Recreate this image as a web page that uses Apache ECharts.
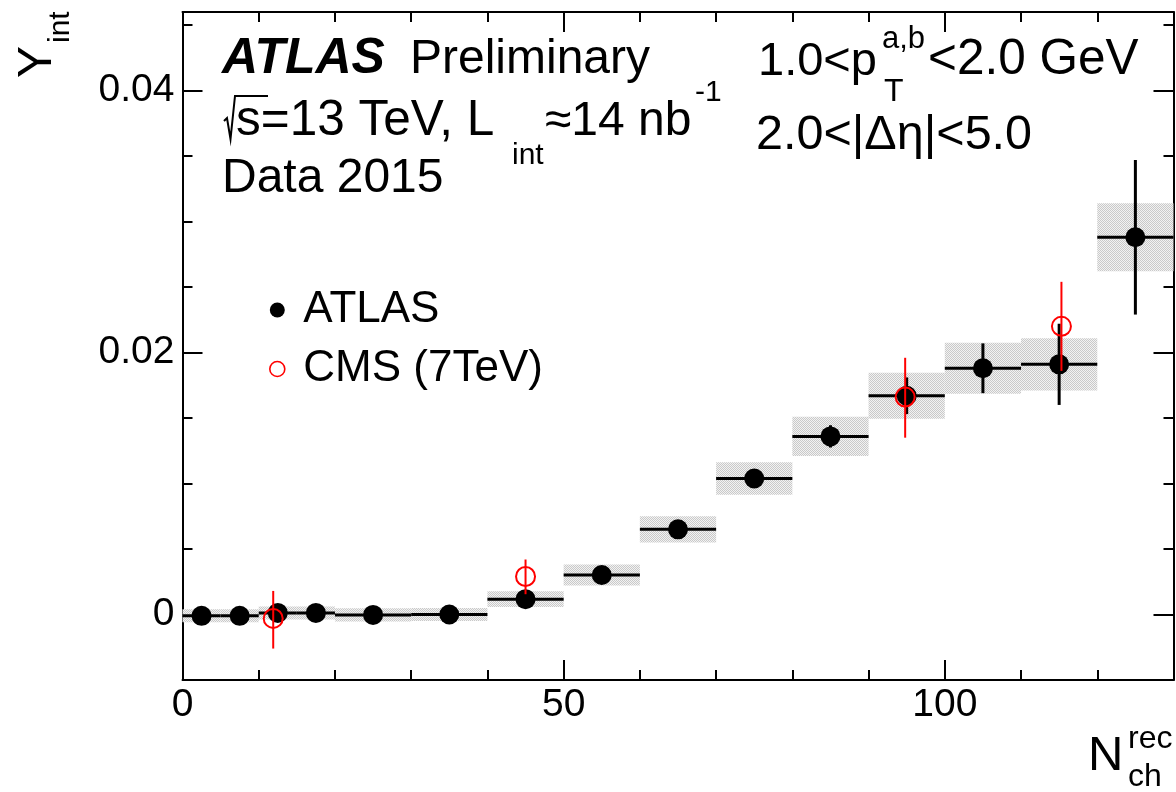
<!DOCTYPE html>
<html>
<head>
<meta charset="utf-8">
<script src="https://cdn.jsdelivr.net/npm/echarts@6/dist/echarts.min.js"></script>
<style>html,body{margin:0;padding:0;background:#fff;}#chart{width:1176px;height:792px;}</style>
</head>
<body>
<div id="chart"></div>
<script>
// ---- data ----
const binLo = [0, 5, 10, 15, 20, 30, 40, 50, 60, 70, 80, 90, 100, 110, 120];
const binHi = [5, 10, 15, 20, 30, 40, 50, 60, 70, 80, 90, 100, 110, 120, 130];
const atlasX = [2.5, 7.5, 12.5, 17.5, 25, 35, 45, 55, 65, 75, 85, 95, 105, 115, 125];
const atlasY = [-0.0001, -0.0001, 0.00012, 0.00012, -0.00003, 0.0, 0.00117, 0.00302, 0.0065, 0.01038, 0.0136, 0.0167, 0.0188, 0.0191, 0.0288];
const atlasStat = [0.0002, 0.0002, 0.0002, 0.0002, 0.0002, 0.0002, 0.0002, 0.0002, 0.0002, 0.0003, 0.00085, 0.0014, 0.0019, 0.0031, 0.0059];
const atlasSys = [0.0005, 0.0005, 0.0005, 0.0005, 0.0005, 0.0005, 0.0006, 0.0008, 0.001, 0.00124, 0.0015, 0.00175, 0.00195, 0.002, 0.0026];
const cmsX = [11.9, 45, 94.8, 115.3];
const cmsY = [-0.0003, 0.0029, 0.0166, 0.022];
const cmsErrUp = [0.0021, 0.0013, 0.003, 0.0034];
const cmsErrDown = [0.0023, 0.00135, 0.0031, 0.0034];
const xMajor = [0, 50, 100];
const xMinor = [10, 20, 30, 40, 60, 70, 80, 90, 110, 120];
const yMajor = [0, 0.02, 0.04];
const yMinor = [0.005, 0.01, 0.015, 0.025, 0.03, 0.035, 0.045];

const FONT = '"Liberation Sans", Arial, Helvetica, sans-serif';
const chart = echarts.init(document.getElementById('chart'), null, {renderer: 'canvas'});

// checker pattern for systematic boxes
const pc = document.createElement('canvas');
pc.width = 2; pc.height = 2;
const pctx = pc.getContext('2d');
pctx.fillStyle = '#f2f2f2'; pctx.fillRect(0, 0, 2, 2);
pctx.fillStyle = '#c9c9c9'; pctx.fillRect(0, 0, 1, 1); pctx.fillRect(1, 1, 1, 1);
const boxFill = {image: pc, repeat: 'repeat'};

function axisBase(extra) {
  return Object.assign({
    type: 'value', gridIndex: 0,
    splitLine: {show: false},
    axisLine: {show: false, onZero: false, lineStyle: {color: '#000', width: 2}},
    axisTick: {show: true, inside: true, length: 20, lineStyle: {color: '#000', width: 2}},
    axisLabel: {show: false}
  }, extra);
}
function xAxisDef(pos, ticks, len, labels, line) {
  return axisBase({
    position: pos, min: 0, max: 130,
    axisLine: {show: line, onZero: false, lineStyle: {color: '#000', width: 2}},
    axisTick: {show: true, inside: true, length: len, customValues: ticks, lineStyle: {color: '#000', width: 2}},
    axisLabel: labels ? {show: true, customValues: ticks, fontSize: 39, color: '#000', fontFamily: FONT, margin: 6} : {show: false}
  });
}
function yAxisDef(pos, ticks, len, labels, line) {
  return axisBase({
    position: pos, min: -0.005, max: 0.046,
    axisLine: {show: line, onZero: false, lineStyle: {color: '#000', width: 2}},
    axisTick: {show: true, inside: true, length: len, customValues: ticks, lineStyle: {color: '#000', width: 2}},
    axisLabel: labels ? {show: true, customValues: ticks, fontSize: 39, color: '#000', fontFamily: FONT, margin: 8} : {show: false}
  });
}

function txt(str, x, baseline, size, opts) {
  opts = opts || {};
  return {
    type: 'text', x: x, y: baseline - 0.35 * size, silent: true,
    style: {text: str, fontSize: size, fontFamily: FONT, fill: '#000', align: 'left', verticalAlign: 'middle',
      fontWeight: opts.bold ? 'bold' : 'normal', fontStyle: opts.italic ? 'italic' : 'normal'}
  };
}
function vtxt(str, baselineX, startY, size) {
  return {
    type: 'text', x: baselineX - 0.35 * size, y: startY, rotation: Math.PI / 2, silent: true,
    style: {text: str, fontSize: size, fontFamily: FONT, fill: '#000', align: 'left', verticalAlign: 'middle'}
  };
}

const option = {
  animation: false,
  backgroundColor: '#fff',
  grid: {left: 182.5, right: 2.5, top: 12, bottom: 112, containLabel: false},
  xAxis: [
    xAxisDef('bottom', xMajor, 20, true, true),
    xAxisDef('bottom', xMinor, 10, false, false),
    xAxisDef('top', xMajor, 20, false, true),
    xAxisDef('top', xMinor, 10, false, false)
  ],
  yAxis: [
    yAxisDef('left', yMajor, 20, true, true),
    yAxisDef('left', yMinor, 10, false, false),
    yAxisDef('right', yMajor, 20, false, true),
    yAxisDef('right', yMinor, 10, false, false)
  ],
  legend: {
    orient: 'vertical', left: 264, top: 283,
    itemWidth: 42, itemHeight: 15, itemGap: 15,
    symbolKeepAspect: true,
    selectedMode: false,
    textStyle: {fontSize: 44, fontFamily: FONT, color: '#000', lineHeight: 44},
    data: [
      {name: 'ATLAS', icon: 'circle', itemStyle: {color: '#000', borderWidth: 0}},
      {name: 'CMS (7TeV)', icon: 'circle', itemStyle: {color: 'rgba(255,255,255,0)', borderColor: '#ff0000', borderWidth: 1.6}}
    ]
  },
  series: [
    {
      name: 'ATLAS sys', type: 'custom', xAxisIndex: 0, yAxisIndex: 0, z: 1,
      data: binLo.map((lo, i) => [lo, binHi[i], atlasY[i] - atlasSys[i], atlasY[i] + atlasSys[i]]),
      renderItem: function (params, api) {
        const p0 = api.coord([api.value(0), api.value(3)]);
        const p1 = api.coord([api.value(1), api.value(2)]);
        return {type: 'rect', shape: {x: p0[0], y: p0[1], width: p1[0] - p0[0], height: p1[1] - p0[1]},
          style: {fill: boxFill}};
      }
    },
    {
      name: 'ATLAS err', type: 'custom', xAxisIndex: 0, yAxisIndex: 0, z: 2,
      data: atlasX.map((x, i) => [x, atlasY[i], binLo[i], binHi[i], atlasStat[i]]),
      renderItem: function (params, api) {
        const x = api.value(0), y = api.value(1), lo = api.value(2), hi = api.value(3), e = api.value(4);
        const a = api.coord([lo, y]), b = api.coord([hi, y]);
        const c = api.coord([x, y + e]), d = api.coord([x, y - e]);
        const st = {stroke: '#000', lineWidth: 3};
        return {type: 'group', children: [
          {type: 'line', shape: {x1: a[0], y1: a[1], x2: b[0], y2: b[1]}, style: st},
          {type: 'line', shape: {x1: c[0], y1: c[1], x2: d[0], y2: d[1]}, style: st}
        ]};
      }
    },
    {
      name: 'ATLAS', type: 'scatter', xAxisIndex: 0, yAxisIndex: 0, z: 3,
      symbol: 'circle', symbolSize: 20,
      itemStyle: {color: '#000', opacity: 1},
      data: atlasX.map((x, i) => [x, atlasY[i]])
    },
    {
      name: 'CMS err', type: 'custom', xAxisIndex: 0, yAxisIndex: 0, z: 4,
      data: cmsX.map((x, i) => [x, cmsY[i], cmsErrUp[i], cmsErrDown[i]]),
      renderItem: function (params, api) {
        const x = api.value(0), y = api.value(1);
        const c = api.coord([x, y + api.value(2)]), d = api.coord([x, y - api.value(3)]);
        return {type: 'line', shape: {x1: c[0], y1: c[1], x2: d[0], y2: d[1]}, style: {stroke: '#ff0000', lineWidth: 2}};
      }
    },
    {
      name: 'CMS (7TeV)', type: 'scatter', xAxisIndex: 0, yAxisIndex: 0, z: 5,
      symbol: 'circle', symbolSize: 19,
      itemStyle: {color: 'rgba(255,255,255,0)', borderColor: '#ff0000', borderWidth: 2, opacity: 1},
      data: cmsX.map((x, i) => [x, cmsY[i]])
    }
  ],
  graphic: [
    txt('ATLAS', 222, 77, 50, {bold: true, italic: true}),
    txt('Preliminary', 410, 77, 48),
    {type: 'polyline', silent: true,
      shape: {points: [[224, 121], [227, 118], [230.5, 139], [235, 96], [268, 96]]},
      style: {stroke: '#000', lineWidth: 2, fill: null, lineJoin: 'miter'}},
    txt('s=13 TeV, L', 236, 139, 49.5),
    txt('int', 512, 166, 30),
    txt('\u224814 nb', 545, 139, 48),
    txt('-1', 695, 103, 30),
    txt('Data 2015', 222, 196, 48),
    txt('1.0<p', 758, 78, 47),
    txt('a,b', 882, 50, 31),
    txt('T', 884, 103, 32),
    txt('<2.0 GeV', 928, 78, 49.5),
    txt('2.0<|\u0394\u03B7|<5.0', 756, 153, 48.5),
    vtxt('Y', 55, 78, 48),
    vtxt('int', 71, 43, 30),
    txt('N', 1088, 774, 49),
    txt('rec', 1128, 750, 32),
    txt('ch', 1128, 788, 32)
  ]
};
chart.setOption(option);
</script>
</body>
</html>
